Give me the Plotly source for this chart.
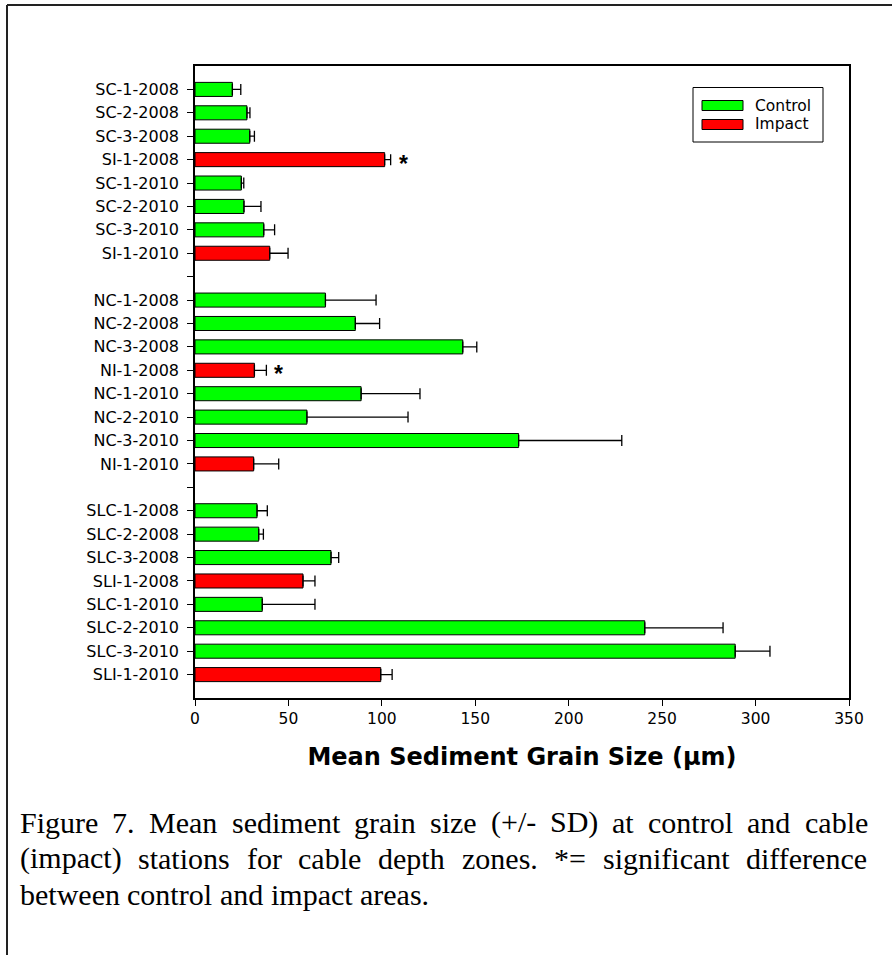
import plotly.graph_objects as go

# ---------------- data ----------------
labels = ["SC-1-2008", "SC-2-2008", "SC-3-2008", "SI-1-2008",
          "SC-1-2010", "SC-2-2010", "SC-3-2010", "SI-1-2010", " ",
          "NC-1-2008", "NC-2-2008", "NC-3-2008", "NI-1-2008",
          "NC-1-2010", "NC-2-2010", "NC-3-2010", "NI-1-2010", "  ",
          "SLC-1-2008", "SLC-2-2008", "SLC-3-2008", "SLI-1-2008",
          "SLC-1-2010", "SLC-2-2010", "SLC-3-2010", "SLI-1-2010"]
means = [20.0, 27.8, 29.3, 101.5, 24.8, 26.2, 36.8, 40.0, None,
         69.8, 85.8, 143.3, 31.8, 88.9, 59.9, 173.2, 31.4, None,
         33.2, 34.1, 72.8, 57.8, 36.0, 240.7, 289.1, 99.4]
sds = [4.5, 1.6, 2.5, 3.2, 1.3, 9.1, 5.8, 9.8, None,
       27.1, 13.0, 7.5, 6.4, 31.5, 54.1, 55.2, 13.4, None,
       5.5, 2.5, 4.1, 6.4, 28.2, 41.9, 18.6, 6.1]
station_type = ["Control", "Control", "Control", "Impact",
                "Control", "Control", "Control", "Impact", "",
                "Control", "Control", "Control", "Impact",
                "Control", "Control", "Control", "Impact", "",
                "Control", "Control", "Control", "Impact",
                "Control", "Control", "Control", "Impact"]
significant = ["SI-1-2008", "NI-1-2008"]
x_ticks = [0, 50, 100, 150, 200, 250, 300, 350]
x_title = "Mean Sediment Grain Size (μm)"
caption_lines = ["Figure 7. Mean sediment grain size (+/- SD) at control and cable",
                 "(impact) stations for cable depth zones. *= significant difference",
                 "between control and impact areas."]
caption_justify = [True, True, False]

# ---------------- layout helpers ----------------
W, H = 892, 955
L, R, T, B = 195, 43, 66, 257
PW = W - L - R
PH = H - T - B


def px(x):
    return (x - L) / PW


def py(y):
    return 1 - (y - T) / PH


colors = {"Control": "#00FF00", "Impact": "#FF0000"}
SANS = "DejaVu Sans"
SERIF = "Liberation Serif"

fig = go.Figure()
for kind in ["Control", "Impact"]:
    idx = [i for i, t in enumerate(station_type) if t == kind]
    fig.add_trace(go.Bar(
        y=[labels[i] for i in idx],
        x=[means[i] for i in idx],
        orientation="h", name=kind, width=0.6, showlegend=False,
        marker=dict(color=colors[kind], line=dict(color="black", width=1)),
        error_x=dict(type="data", array=[sds[i] for i in idx],
                     arrayminus=[0] * len(idx), symmetric=False,
                     color="black", thickness=1.3, width=5.5),
    ))

annotations = []
# significance stars
for lab in significant:
    i = labels.index(lab)
    annotations.append(dict(x=means[i] + sds[i], y=lab, xref="x", yref="y",
                            text="*", showarrow=False, xanchor="left",
                            xshift=7, yshift=-4, borderpad=0,
                            font=dict(family="Liberation Sans", size=23,
                                      color="black", weight="bold")))

# custom legend (wide swatches like original)
shapes = []
shapes.append(dict(type="rect", xref="paper", yref="paper",
                   x0=px(693), x1=px(823), y0=py(87.5), y1=py(142),
                   line=dict(color="black", width=1), fillcolor="white"))
for k, kind in enumerate(["Control", "Impact"]):
    yc = 105.5 + 19 * k
    shapes.append(dict(type="rect", xref="paper", yref="paper",
                       x0=px(702), x1=px(743), y0=py(yc - 5), y1=py(yc + 5),
                       line=dict(color="black", width=1), fillcolor=colors[kind]))
    annotations.append(dict(x=px(754), y=py(yc), xref="paper", yref="paper",
                            text=kind, showarrow=False, xanchor="left",
                            yanchor="middle", borderpad=0,
                            font=dict(family=SANS, size=15.5, color="black")))

# page frame (top and left borders)
shapes.append(dict(type="line", xref="paper", yref="paper",
                   x0=px(7), x1=px(892), y0=py(5), y1=py(5),
                   line=dict(color="#222222", width=2)))
shapes.append(dict(type="line", xref="paper", yref="paper",
                   x0=px(7), x1=px(7), y0=py(5), y1=py(955),
                   line=dict(color="#222222", width=2)))

# caption, justified like the original
TIMES = {" ": 250, "(": 333, ")": 333, "*": 500, "+": 564, "-": 333, ".": 250,
         "/": 278, "7": 500, "=": 564, "D": 722, "F": 556, "M": 889, "S": 556,
         "a": 444, "b": 500, "c": 444, "d": 500, "e": 444, "f": 333, "g": 500,
         "h": 500, "i": 278, "j": 278, "k": 500, "l": 278, "m": 778, "n": 500,
         "o": 500, "p": 500, "q": 500, "r": 333, "s": 389, "t": 278, "u": 500,
         "v": 500, "w": 722, "x": 500, "y": 500, "z": 444}
CAP_SIZE = 30
CAP_LEFT, CAP_RIGHT = 20, 868
CAP_Y = [822, 858, 894]


def wwidth(word):
    return sum(TIMES.get(c, 500) for c in word) / 1000 * CAP_SIZE


for line, just, yc in zip(caption_lines, caption_justify, CAP_Y):
    words = line.split(" ")
    widths = [wwidth(w) for w in words]
    if just and len(words) > 1:
        gap = (CAP_RIGHT - CAP_LEFT - sum(widths)) / (len(words) - 1)
    else:
        gap = TIMES[" "] / 1000 * CAP_SIZE
    xcur = CAP_LEFT
    for w, wd in zip(words, widths):
        annotations.append(dict(x=px(xcur), y=py(yc), xref="paper", yref="paper",
                                text=w, showarrow=False, xanchor="left",
                                yanchor="middle", borderpad=0, borderwidth=0,
                                font=dict(family=SERIF, size=CAP_SIZE, color="black")))
        xcur += wd + gap

fig.update_layout(
    width=W, height=H,
    margin=dict(l=L, r=R, t=T, b=B, pad=0),
    paper_bgcolor="white", plot_bgcolor="white",
    barmode="overlay",
    showlegend=False,
    shapes=shapes,
    annotations=annotations,
    xaxis=dict(range=[0, 350], tickmode="array", tickvals=x_ticks,
               ticks="outside", ticklen=6, tickwidth=1, tickcolor="black",
               showline=True, linecolor="black", linewidth=1.5, mirror=True,
               showgrid=False, zeroline=False,
               tickfont=dict(family=SANS, size=15.5, color="black"),
               title=dict(text=x_title, standoff=21,
                          font=dict(family=SANS, size=24, color="black",
                                    weight="bold"))),
    yaxis=dict(type="category", categoryorder="array", categoryarray=labels,
               range=[26, -1], tickmode="array", tickvals=labels, ticktext=labels,
               ticks="outside", ticklen=6, tickwidth=1, tickcolor="black",
               showline=True, linecolor="black", linewidth=1.5, mirror=True,
               showgrid=False, zeroline=False, ticklabelstandoff=5,
               tickfont=dict(family=SANS, size=16, color="black")),
)

fig.write_html("out.html")
